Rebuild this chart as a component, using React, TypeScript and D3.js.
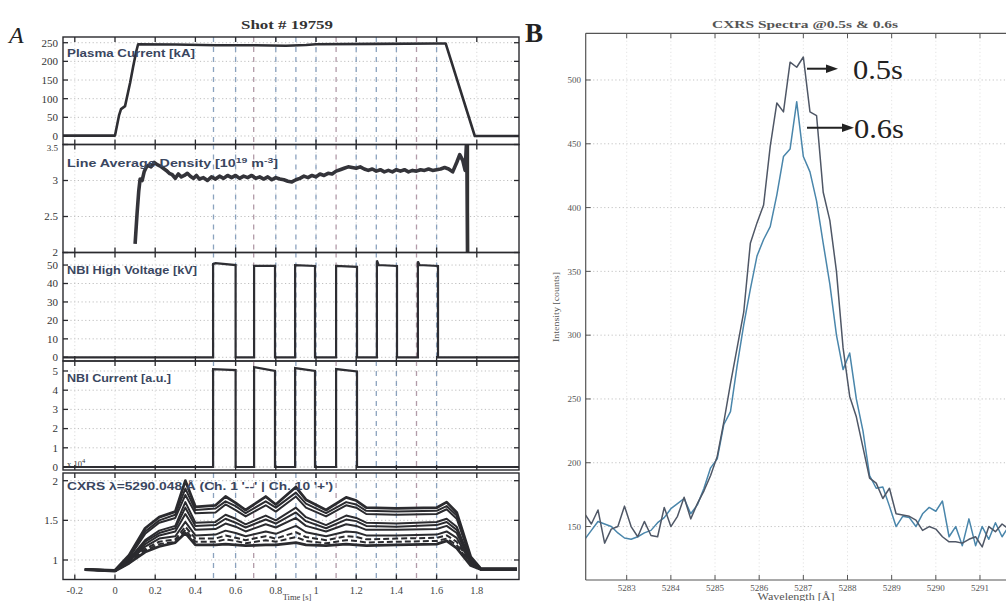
import React from "react";
import * as d3 from "d3";

// ---------------- Panel A data ----------------
const timeTicks = [-0.2, 0, 0.2, 0.4, 0.6, 0.8, 1, 1.2, 1.4, 1.6, 1.8];
const timeTickLabels = ["-0.2", "0", "0.2", "0.4", "0.6", "0.8", "1", "1.2", "1.4", "1.6", "1.8"];
const beamMarkerTimes = [0.49, 0.6, 0.69, 0.8, 0.9, 1.0, 1.1, 1.2, 1.3, 1.4, 1.5, 1.6];

const plasmaTime = [-0.26, 0.0, 0.02, 0.03, 0.05, 0.075, 0.09, 0.105, 0.115, 0.3, 0.5, 0.7, 0.85, 0.95, 1.0, 1.3, 1.6, 1.645, 1.79, 2.02];
const plasmaCurrent = [1, 1, 55, 72, 80, 142, 185, 225, 246, 245, 243, 243, 242, 244, 246, 247, 248, 248, 0, 0];

const densityTime = [
  0.100, 0.110, 0.118, 0.125, 0.135, 0.145, 0.155, 0.165,
  0.180, 0.195, 0.210, 0.225, 0.240, 0.255, 0.270, 0.285, 0.300, 0.315, 0.330, 0.345, 0.360, 0.375, 0.390, 0.405, 0.420,
  0.44, 0.46, 0.48, 0.50, 0.52, 0.54, 0.56, 0.58, 0.60, 0.62,
  0.64, 0.66, 0.68, 0.70, 0.72, 0.74, 0.76, 0.78, 0.80, 0.82,
  0.84, 0.86, 0.88, 0.90, 0.92, 0.94, 0.96, 0.98, 1.00, 1.02,
  1.04, 1.06, 1.08, 1.10, 1.12, 1.14, 1.16, 1.18, 1.20, 1.22,
  1.24, 1.26, 1.28, 1.30, 1.32, 1.34, 1.36, 1.38, 1.40, 1.42,
  1.44, 1.46, 1.48, 1.50, 1.52, 1.54, 1.56, 1.58, 1.60, 1.62,
  1.64, 1.66, 1.68, 1.70,
  1.715, 1.730, 1.742, 1.750, 1.754,
];
const densityValue = [
  2.12, 2.55, 2.85, 3.02, 3.00, 3.12, 3.18, 3.21,
  3.19, 3.25, 3.22, 3.20, 3.17, 3.14, 3.10, 3.08, 3.03, 3.09, 3.05, 3.07, 3.10, 3.06, 3.03, 3.07, 3.02,
  3.04, 3.00, 3.05, 3.02, 3.06, 3.03, 3.07, 3.04, 3.07, 3.03,
  3.06, 3.04, 3.07, 3.03, 3.05, 3.02, 3.05, 3.01, 3.04, 3.02,
  3.01, 2.99, 2.98, 3.01, 3.03, 3.06, 3.04, 3.07, 3.05, 3.09,
  3.07, 3.10, 3.09, 3.13, 3.15, 3.17, 3.19, 3.18, 3.17, 3.19,
  3.16, 3.14, 3.16, 3.13, 3.15, 3.12, 3.14, 3.12, 3.15, 3.13,
  3.15, 3.12, 3.14, 3.13, 3.15, 3.14, 3.16, 3.14, 3.15, 3.16,
  3.18, 3.16, 3.12, 3.25,
  3.36, 3.28, 3.14, 3.6, 1.9,
];

const nbiVoltTime = [-0.26, 0.488, 0.488, 0.5, 0.6, 0.6, 0.692, 0.692, 0.796, 0.796, 0.896, 0.896, 0.995, 0.995, 1.1, 1.1, 1.204, 1.204, 1.303, 1.303, 1.312, 1.403, 1.403, 1.507, 1.507, 1.515, 1.607, 1.607, 2.02];
const nbiVoltValue = [0, 0, 50.5, 51, 50, 0, 0, 49.5, 49.5, 0, 0, 50, 49.5, 0, 0, 49.5, 49, 0, 0, 52.5, 50, 49.5, 0, 0, 52, 50, 49.5, 0, 0];

const nbiCurTime = [-0.26, 0.488, 0.488, 0.6, 0.6, 0.692, 0.692, 0.796, 0.796, 0.896, 0.896, 0.995, 0.995, 1.1, 1.1, 1.204, 1.204, 2.02];
const nbiCurValue = [0, 0, 5.1, 5.05, 0, 0, 5.2, 5.0, 0, 0, 5.15, 5.0, 0, 0, 5.1, 4.98, 0, 0];

const cxrsTime = [-0.15, 0, 0.07, 0.15, 0.22, 0.3, 0.35, 0.4, 0.5, 0.55, 0.6, 0.65, 0.75, 0.8, 0.9, 0.95, 1.05, 1.15, 1.2, 1.25, 1.4, 1.6, 1.65, 1.7, 1.77, 1.82, 2.0];
const cxrsCh10 = [0.88, 0.87, 1.06, 1.40, 1.54, 1.61, 2.0, 1.67, 1.69, 1.80, 1.72, 1.63, 1.80, 1.70, 1.92, 1.76, 1.63, 1.79, 1.75, 1.66, 1.65, 1.66, 1.73, 1.60, 1.04, 0.89, 0.89];
const cxrsCh9 = [0.88, 0.87, 1.04, 1.36, 1.50, 1.57, 1.90, 1.63, 1.65, 1.74, 1.68, 1.59, 1.74, 1.66, 1.85, 1.71, 1.59, 1.73, 1.70, 1.62, 1.61, 1.62, 1.68, 1.56, 1.02, 0.89, 0.89];
const cxrsCh8 = [0.88, 0.87, 1.03, 1.33, 1.47, 1.53, 1.82, 1.59, 1.60, 1.70, 1.63, 1.55, 1.69, 1.61, 1.80, 1.66, 1.55, 1.69, 1.66, 1.58, 1.57, 1.58, 1.64, 1.52, 1.01, 0.88, 0.88];
const cxrsCh7 = [0.88, 0.87, 1.01, 1.25, 1.37, 1.43, 1.73, 1.47, 1.48, 1.57, 1.52, 1.45, 1.56, 1.50, 1.66, 1.54, 1.44, 1.56, 1.53, 1.47, 1.46, 1.48, 1.52, 1.42, 0.99, 0.88, 0.88];
const cxrsCh6 = [0.88, 0.86, 1.00, 1.23, 1.34, 1.40, 1.66, 1.43, 1.44, 1.52, 1.47, 1.41, 1.51, 1.46, 1.60, 1.49, 1.40, 1.51, 1.49, 1.43, 1.42, 1.44, 1.48, 1.38, 0.98, 0.88, 0.88];
const cxrsCh5 = [0.88, 0.86, 0.99, 1.20, 1.31, 1.36, 1.58, 1.38, 1.39, 1.46, 1.42, 1.36, 1.45, 1.41, 1.53, 1.43, 1.36, 1.45, 1.43, 1.38, 1.38, 1.39, 1.43, 1.34, 0.97, 0.88, 0.88];
const cxrsCh4 = [0.88, 0.86, 0.98, 1.17, 1.27, 1.30, 1.48, 1.31, 1.32, 1.37, 1.34, 1.30, 1.36, 1.33, 1.43, 1.35, 1.30, 1.36, 1.35, 1.31, 1.31, 1.32, 1.36, 1.28, 0.96, 0.88, 0.88];
const cxrsCh3 = [0.88, 0.86, 0.97, 1.14, 1.23, 1.26, 1.42, 1.27, 1.27, 1.31, 1.28, 1.25, 1.30, 1.27, 1.35, 1.29, 1.25, 1.30, 1.29, 1.26, 1.27, 1.28, 1.31, 1.23, 0.95, 0.88, 0.88];
const cxrsCh1 = [0.88, 0.86, 0.96, 1.12, 1.20, 1.23, 1.38, 1.23, 1.23, 1.26, 1.24, 1.21, 1.25, 1.23, 1.29, 1.24, 1.21, 1.25, 1.24, 1.22, 1.23, 1.24, 1.27, 1.19, 0.94, 0.88, 0.88];
const cxrsCh2 = [0.88, 0.86, 0.96, 1.10, 1.17, 1.22, 1.34, 1.19, 1.19, 1.20, 1.19, 1.18, 1.19, 1.19, 1.22, 1.19, 1.18, 1.20, 1.19, 1.18, 1.19, 1.20, 1.24, 1.15, 0.93, 0.88, 0.88];
const cxrsChannels = [cxrsCh10, cxrsCh9, cxrsCh8, cxrsCh7, cxrsCh6, cxrsCh5, cxrsCh4, cxrsCh3, cxrsCh1, cxrsCh2];
const cxrsDashed = [false, false, false, false, false, false, false, true, true, false];

// ---------------- Panel B data ----------------
const wavelengthTicks = [5283, 5284, 5285, 5286, 5287, 5288, 5289, 5290, 5291];
const intensityTicks = [150, 200, 250, 300, 350, 400, 450, 500];
const wavelength = [
  5282.05, 5282.20, 5282.35, 5282.50, 5282.65, 5282.80, 5282.95, 5283.10, 5283.25, 5283.40,
  5283.55, 5283.70, 5283.85, 5284.00, 5284.15, 5284.30, 5284.45, 5284.60, 5284.75, 5284.90,
  5285.05, 5285.20, 5285.35, 5285.50, 5285.65, 5285.80, 5285.95, 5286.10, 5286.25, 5286.40,
  5286.55, 5286.70, 5286.85, 5287.00, 5287.15, 5287.30, 5287.45, 5287.60, 5287.75, 5287.90,
  5288.05, 5288.20, 5288.35, 5288.50, 5288.65, 5288.80, 5288.95, 5289.10, 5289.25, 5289.40,
  5289.55, 5289.70, 5289.85, 5290.00, 5290.15, 5290.30, 5290.45, 5290.60, 5290.75, 5290.90,
  5291.05, 5291.20, 5291.35, 5291.50, 5291.65, 5291.80, 5291.95,
];
const spectrum05 = [
  160, 152, 163, 137, 148, 150, 166, 150, 142, 154,
  143, 142, 165, 150, 158, 173, 156, 168, 178, 190,
  205, 232, 262, 290, 318, 372, 388, 402, 448, 482,
  475, 514, 510, 518, 475, 472, 412, 390, 350, 290,
  252, 236, 212, 188, 184, 172, 180, 160, 159, 158,
  155, 147, 150, 148, 142, 138, 138, 137, 140, 142,
  134, 150, 146, 152, 148, 150, 147,
];
const spectrum06 = [
  140, 147, 154, 152, 150, 145, 141, 140, 142, 145,
  147, 153, 157, 164, 168, 172, 160, 167, 180, 196,
  203, 230, 240, 276, 308, 336, 362, 375, 385, 410,
  440, 446, 483, 440, 428, 405, 372, 340, 300, 273,
  286, 250, 225, 190, 180, 181, 166, 150, 158, 157,
  150, 160, 165, 162, 170, 142, 150, 135, 156, 135,
  150, 140, 153, 142, 150, 145, 150,
];

const W = 1006;
const H = 601;

const AX_LEFT = 63;
const AX_RIGHT = 519;
const xA = d3.scaleLinear().domain([(AX_LEFT - 115) / 201, (AX_RIGHT - 115) / 201]).range([AX_LEFT, AX_RIGHT]);

type PanelA = {
  key: string;
  top: number;
  bottom: number;
  domain: [number, number];
  ticks: number[];
  label: string;
  labelW: number;
  labelY: number;
};

const panelsA: PanelA[] = [
  { key: "ip", top: 37, bottom: 144.5, domain: [-22.8, 265.3], ticks: [0, 50, 100, 150, 200, 250], label: "Plasma Current  [kA]", labelW: 128, labelY: 57 },
  { key: "ne", top: 144.5, bottom: 252.5, domain: [2, 3.5], ticks: [2, 2.5, 3, 3.5], label: "", labelW: 211, labelY: 167 },
  { key: "hv", top: 252.5, bottom: 361, domain: [-2.0, 56.8], ticks: [0, 10, 20, 30, 40, 50], label: "NBI High Voltage [kV]", labelW: 130, labelY: 274 },
  { key: "ib", top: 361, bottom: 470, domain: [-0.156, 5.52], ticks: [0, 1, 2, 3, 4, 5], label: "NBI Current [a.u.]", labelW: 104, labelY: 382 },
  { key: "cx", top: 473, bottom: 579.5, domain: [0.754, 2.097], ticks: [1, 1.5, 2], label: "CXRS \u03bb=5290.048 \u00c5 (Ch. 1 '--' | Ch. 10 '+')", labelW: 266, labelY: 490 },
];

const B_LEFT = 585.7;
const B_TOP = 33.3;
const B_BOTTOM = 580;
const B_RIGHT = 1030;
const xB = d3.scaleLinear().domain([5283 - (626.7 - B_LEFT) / 44.16, 5283 + (B_RIGHT - 626.7) / 44.16]).range([B_LEFT, B_RIGHT]);
const yB = d3.scaleLinear().domain([108.1, 536.6]).range([B_BOTTOM, B_TOP]);

const serif = "'Liberation Serif', 'DejaVu Serif', serif";
const sans = "'Liberation Sans', Arial, sans-serif";
const LABEL_COLOR = "#3a465f";

function linePath(xs: number[], ys: number[], y: d3.ScaleLinear<number, number>) {
  const gen = d3.line<number>().x((_, i) => xA(xs[i])).y((v) => y(v));
  return gen(ys) || "";
}

function PanelAView({ p, index }: { p: PanelA; index: number }) {
  const y = d3.scaleLinear().domain(p.domain).range([p.bottom, p.top]);
  const clipId = `clipA${index}`;
  let content: React.ReactNode = null;
  if (p.key === "ip") {
    content = <path d={linePath(plasmaTime, plasmaCurrent, y)} fill="none" stroke="#2e2e33" strokeWidth={2.6} strokeLinejoin="round" />;
  } else if (p.key === "ne") {
    content = (
      <g>
        <path d={linePath(densityTime, densityValue, y)} fill="none" stroke="#34343a" strokeWidth={3.6} strokeLinejoin="round" />
        <line x1={xA(1.757)} x2={xA(1.757)} y1={p.top} y2={p.bottom} stroke="#333" strokeWidth={2} />
      </g>
    );
  } else if (p.key === "hv") {
    content = <path d={linePath(nbiVoltTime, nbiVoltValue, y)} fill="none" stroke="#2e2e33" strokeWidth={2.2} />;
  } else if (p.key === "ib") {
    content = <path d={linePath(nbiCurTime, nbiCurValue, y)} fill="none" stroke="#2e2e33" strokeWidth={2.2} />;
  } else if (p.key === "cx") {
    content = (
      <g>
        {cxrsChannels.map((ch, i) => (
          <path
            key={i}
            d={linePath(cxrsTime, ch, y)}
            fill="none"
            stroke="#2b2b2f"
            strokeWidth={i === 0 || i === cxrsChannels.length - 1 ? 2.8 : 2}
            strokeDasharray={cxrsDashed[i] ? "6,3" : undefined}
            strokeLinejoin="round"
          />
        ))}
      </g>
    );
  }
  return (
    <g>
      <defs>
        <clipPath id={clipId}>
          <rect x={AX_LEFT} y={p.top} width={AX_RIGHT - AX_LEFT} height={p.bottom - p.top} />
        </clipPath>
      </defs>
      <g clipPath={`url(#${clipId})`}>
        {p.ticks.map((t) => (
          <line key={`h${t}`} x1={AX_LEFT} x2={AX_RIGHT} y1={y(t)} y2={y(t)} stroke="#b8b8b8" strokeWidth={0.9} strokeDasharray="1.2,2.5" />
        ))}
        {timeTicks.map((t) => (
          <line key={`v${t}`} x1={xA(t)} x2={xA(t)} y1={p.top} y2={p.bottom} stroke="#cfcfcf" strokeWidth={0.8} strokeDasharray="1.2,2.5" />
        ))}
        {beamMarkerTimes.map((t, i) => (
          <line key={`b${t}`} x1={xA(t)} x2={xA(t)} y1={p.top} y2={p.bottom} stroke={i % 4 === 2 ? "#a58a9a" : "#7893b4"} strokeWidth={1.3} strokeDasharray="5,5" opacity={0.85} />
        ))}
        {content}
      </g>
      <rect x={AX_LEFT} y={p.top} width={AX_RIGHT - AX_LEFT} height={p.bottom - p.top} fill="none" stroke="#2a2a2e" strokeWidth={1.4} />
      {timeTicks.map((t) => (
        <g key={`tk${t}`}>
          <line x1={xA(t)} x2={xA(t)} y1={p.bottom} y2={p.bottom - 5} stroke="#2a2a2e" strokeWidth={1.3} />
          <line x1={xA(t)} x2={xA(t)} y1={p.top} y2={p.top + 5} stroke="#2a2a2e" strokeWidth={1.3} />
        </g>
      ))}
      {p.ticks.map((t) => (
        <g key={`yt${t}`}>
          <line x1={AX_LEFT} x2={AX_LEFT + 5} y1={y(t)} y2={y(t)} stroke="#2a2a2e" strokeWidth={1.3} />
          <line x1={AX_RIGHT} x2={AX_RIGHT - 5} y1={y(t)} y2={y(t)} stroke="#2a2a2e" strokeWidth={1.3} />
          <text
            x={58}
            y={y(t) + (p.key === "ne" && t === 3.5 ? 3 : 0)}
            dy="0.35em"
            textAnchor="end"
            fontFamily={serif}
            fontSize={p.key === "ne" && t === 3.5 ? 9 : 11}
            fill="#333"
          >
            {String(t)}
          </text>
        </g>
      ))}
      {p.key === "ne" ? (
        <text x={67} y={p.labelY} fontFamily={sans} fontWeight="bold" fontSize={11} fill={LABEL_COLOR} textLength={p.labelW} lengthAdjust="spacingAndGlyphs">
          Line Average Density{"   "}[10<tspan dy={-4} fontSize={8}>19</tspan>
          <tspan dy={4}> m</tspan>
          <tspan dy={-4} fontSize={8}>-3</tspan>
          <tspan dy={4}>]</tspan>
        </text>
      ) : (
        <text x={67} y={p.labelY} fontFamily={sans} fontWeight="bold" fontSize={11} fill={LABEL_COLOR} textLength={p.labelW} lengthAdjust="spacingAndGlyphs">
          {p.label}
        </text>
      )}
    </g>
  );
}

function PanelBView() {
  const lineB = (vals: number[]) => d3.line<number>().x((_, i) => xB(wavelength[i])).y((v) => yB(v))(vals) || "";
  return (
    <g>
      <defs>
        <clipPath id="clipB">
          <rect x={B_LEFT} y={B_TOP} width={B_RIGHT - B_LEFT} height={B_BOTTOM - B_TOP} />
        </clipPath>
      </defs>
      <g clipPath="url(#clipB)">
        {intensityTicks.map((t) => (
          <line key={`h${t}`} x1={B_LEFT} x2={B_RIGHT} y1={yB(t)} y2={yB(t)} stroke="#bdbdbd" strokeWidth={0.9} strokeDasharray="1.2,2.5" />
        ))}
        {wavelengthTicks.map((t) => (
          <line key={`v${t}`} x1={xB(t)} x2={xB(t)} y1={B_TOP} y2={B_BOTTOM} stroke="#dcdcdc" strokeWidth={0.8} strokeDasharray="1.2,2.5" />
        ))}
        <path d={lineB(spectrum06)} fill="none" stroke="#4a86ab" strokeWidth={1.5} strokeLinejoin="round" />
        <path d={lineB(spectrum05)} fill="none" stroke="#4f5766" strokeWidth={1.5} strokeLinejoin="round" />
      </g>
      <line x1={B_LEFT} x2={B_LEFT} y1={B_TOP} y2={B_BOTTOM} stroke="#555" strokeWidth={1.2} />
      <line x1={B_LEFT} x2={B_RIGHT} y1={B_TOP} y2={B_TOP} stroke="#555" strokeWidth={1.2} />
      <line x1={B_LEFT} x2={B_RIGHT} y1={B_BOTTOM} y2={B_BOTTOM} stroke="#555" strokeWidth={1.2} />
      {wavelengthTicks.map((t) => (
        <g key={`xt${t}`}>
          <line x1={xB(t)} x2={xB(t)} y1={B_BOTTOM} y2={B_BOTTOM - 5} stroke="#555" strokeWidth={1} />
          <line x1={xB(t)} x2={xB(t)} y1={B_TOP} y2={B_TOP + 5} stroke="#555" strokeWidth={1} />
          <text x={xB(t)} y={591} textAnchor="middle" fontFamily={serif} fontSize={9} fill="#555">
            {String(t)}
          </text>
        </g>
      ))}
      {intensityTicks.map((t) => (
        <g key={`yt${t}`}>
          <line x1={B_LEFT} x2={B_LEFT + 5} y1={yB(t)} y2={yB(t)} stroke="#555" strokeWidth={1} />
          <text x={581} y={yB(t)} dy="0.35em" textAnchor="end" fontFamily={serif} fontSize={9} fill="#555">
            {String(t)}
          </text>
        </g>
      ))}
      <text x={805} y={28} textAnchor="middle" fontFamily={serif} fontWeight="bold" fontSize={10} fill="#555" textLength={186} lengthAdjust="spacingAndGlyphs">
        CXRS Spectra @0.5s &amp; 0.6s
      </text>
      <text transform="translate(559,307) rotate(-90)" textAnchor="middle" fontFamily={serif} fontSize={9} fill="#555" textLength={70} lengthAdjust="spacingAndGlyphs">
        Intensity [counts]
      </text>
      <text x={796} y={600} textAnchor="middle" fontFamily={serif} fontSize={10} fill="#555" textLength={77} lengthAdjust="spacingAndGlyphs">
        Wavelength [Å]
      </text>
      <line x1={807} x2={828} y1={68.7} y2={68.7} stroke="#222" strokeWidth={2} />
      <path d="M 838 68.7 L 826 64.5 L 826 72.9 Z" fill="#222" />
      <text x={853} y={79} fontFamily={serif} fontSize={27} fill="#222" textLength={50} lengthAdjust="spacingAndGlyphs">0.5s</text>
      <line x1={807} x2={843} y1={127.7} y2={127.7} stroke="#222" strokeWidth={2} />
      <path d="M 854 127.7 L 842 123.5 L 842 131.9 Z" fill="#222" />
      <text x={854} y={137.5} fontFamily={serif} fontSize={27} fill="#222" textLength={50} lengthAdjust="spacingAndGlyphs">0.6s</text>
      <text x={525} y={42} fontFamily={serif} fontWeight="bold" fontSize={27} fill="#222">B</text>
    </g>
  );
}

export default function App() {
  return (
    <svg width={W} height={H} viewBox={`0 0 ${W} ${H}`} style={{ position: "absolute", left: 0, top: 0, background: "#fff" }}>
      <rect x={0} y={0} width={W} height={H} fill="#fff" />
      <text x={287} y={29} textAnchor="middle" fontFamily={serif} fontWeight="bold" fontSize={13} fill="#333" textLength={92} lengthAdjust="spacingAndGlyphs">
        Shot # 19759
      </text>
      <text x={9} y={43} fontFamily={serif} fontStyle="italic" fontSize={24} fill="#222">A</text>
      {panelsA.map((p, i) => (
        <PanelAView key={p.key} p={p} index={i} />
      ))}
      <text x={67} y={467} fontFamily={serif} fontSize={8.5} fill="#333">
        x 10<tspan dy={-4} fontSize={6.5}>4</tspan>
      </text>
      {timeTicks.map((t, i) => (
        <text key={`xl${t}`} x={xA(t)} y={594} textAnchor="middle" fontFamily={serif} fontSize={10.5} fill="#444">
          {timeTickLabels[i]}
        </text>
      ))}
      <text x={297} y={600} textAnchor="middle" fontFamily={serif} fontSize={8.5} fill="#444">
        Time  [s]
      </text>
      <PanelBView />
    </svg>
  );
}
